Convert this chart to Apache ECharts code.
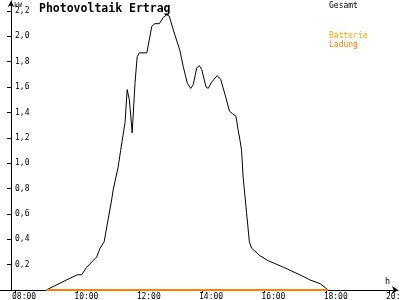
<!DOCTYPE html>
<html>
<head>
<meta charset="utf-8">
<script src="https://cdn.jsdelivr.net/npm/echarts@6/dist/echarts.min.js"></script>
<style>html,body{margin:0;padding:0;background:#fff}#c{width:400px;height:300px}</style>
</head>
<body>
<div id="c"></div>
<script>
// time of day in decimal hours
const hours = [9.00, 9.66, 10.00, 10.14, 10.30, 10.62, 10.73, 10.86, 11.10, 11.15, 11.31, 11.39, 11.53, 11.60, 11.67, 11.76, 11.85, 11.92, 11.99, 12.23, 12.39, 12.49, 12.63, 12.76, 12.87, 12.95, 13.08, 13.29, 13.40, 13.53, 13.64, 13.72, 13.83, 13.91, 13.99, 14.13, 14.20, 14.31, 14.49, 14.60, 14.74, 14.88, 14.98, 15.09, 15.16, 15.22, 15.27, 15.32, 15.43, 15.52, 15.59, 15.86, 16.13, 16.61, 17.14, 17.46, 17.79, 18.05];
// Gesamt in kW
const gesamt = [0.00, 0.08, 0.12, 0.12, 0.18, 0.26, 0.33, 0.38, 0.71, 0.79, 0.97, 1.10, 1.32, 1.58, 1.50, 1.24, 1.63, 1.84, 1.87, 1.87, 2.08, 2.10, 2.10, 2.15, 2.17, 2.16, 2.05, 1.89, 1.76, 1.63, 1.59, 1.62, 1.75, 1.77, 1.74, 1.60, 1.59, 1.64, 1.69, 1.66, 1.54, 1.41, 1.39, 1.37, 1.26, 1.18, 1.10, 0.89, 0.61, 0.38, 0.33, 0.27, 0.23, 0.18, 0.12, 0.08, 0.05, 0.00];
// Batterie Ladung in kW
const ladungHours = [9.00, 18.05];
const ladung = [0, 0];
// axis ticks
const xTicks = [8, 10, 12, 14, 16, 18, 20];
const yTicks = [0.2, 0.4, 0.6, 0.8, 1.0, 1.2, 1.4, 1.6, 1.8, 2.0, 2.2];

const mono = 'DejaVu Sans Mono';
const pxPerHour = 31.17;
const labelShift = 3 / pxPerHour; // labels start slightly left of their tick
const xLabelPos = xTicks.map(v => v - labelShift);

function t(text, left, top, size, color, weight, lh) {
  return {text, left, top, padding: 0, textStyle: {fontFamily: mono, fontWeight: weight || 'normal', fontSize: size, color, lineHeight: lh || size + 1}};
}

const chart = echarts.init(document.getElementById('c'), null, {renderer: 'canvas'});
chart.setOption({
  animation: false,
  backgroundColor: '#fff',
  title: [
    t('Photovoltaik Ertrag', 39, 3, 11.5, '#000', 'bold', 13),
    t('kW', 14, 2, 6.5, '#000'),
    t('h', 385, 277, 8.5, '#000'),
    t('Gesamt', 329, 1, 8, '#000'),
    t('Batterie', 329, 31, 8, '#FFA500'),
    t('Ladung', 329, 40, 8, '#FF8000')
  ],
  grid: {left: 0, right: 2, top: 1, bottom: 10, containLabel: false, outerBoundsMode: 'none'},
  xAxis: {
    type: 'value',
    min: 8 - 15 / pxPerHour,
    max: 20 + 9 / pxPerHour,
    splitLine: {show: false},
    axisLine: {show: true, onZero: false, lineStyle: {color: '#000', width: 1}, symbol: ['none', 'arrow'], symbolSize: [6, 6]},
    axisTick: {show: true, length: 3, customValues: xTicks, lineStyle: {color: '#000'}},
    axisLabel: {show: true, customValues: xLabelPos, align: 'left', margin: 3, fontFamily: mono, fontSize: 8, color: '#000',
      formatter: v => { const h = Math.round(v); return (h < 10 ? '0' : '') + h + ':00'; }}
  },
  yAxis: {
    type: 'value',
    min: 0,
    max: 2.2 + 10 / 126.8,
    offset: -11,
    splitLine: {show: false},
    axisLine: {show: true, onZero: false, lineStyle: {color: '#000', width: 1}, symbol: ['none', 'arrow'], symbolSize: [5, 6]},
    axisTick: {show: true, length: 4, customValues: yTicks, lineStyle: {color: '#000'}},
    axisLabel: {show: true, inside: true, customValues: yTicks, margin: 4, fontFamily: mono, fontSize: 8, color: '#000',
      formatter: v => v.toFixed(1).replace('.', ',')}
  },
  series: [
    {name: 'Gesamt', type: 'line', data: hours.map((h, i) => [h, gesamt[i]]), showSymbol: false, symbol: 'none',
      lineStyle: {color: '#000', width: 1}, z: 3},
    {name: 'Batterie Ladung', type: 'line', data: ladungHours.map((h, i) => [h, ladung[i]]), showSymbol: false, symbol: 'none',
      lineStyle: {color: '#FF8000', width: 2}, z: 4}
  ]
});
</script>
</body>
</html>
